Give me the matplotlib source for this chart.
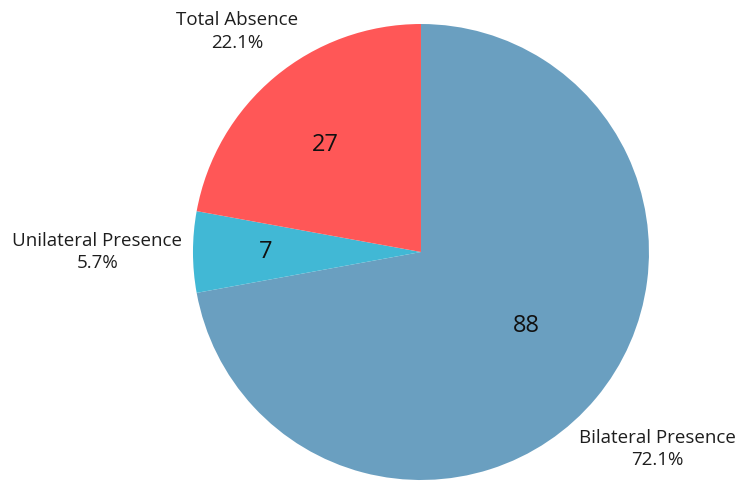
import numpy as np
import matplotlib.pyplot as plt

labels = ['Bilateral Presence', 'Unilateral Presence', 'Total Absence']
counts = [88, 7, 27]
colors = ['#6A9FC0', '#41B8D5', '#FF5757']

plt.rcParams['font.family'] = ['Open Sans', 'DejaVu Sans']

fig = plt.figure(figsize=(7.5, 4.95), dpi=100)
ax = fig.add_axes([0.2573, 0.0303, 0.608, 0.9212])

wedges, _ = ax.pie(counts, colors=colors, startangle=90, counterclock=False,
                   radius=1)
ax.set_xlim(-1, 1)
ax.set_ylim(-1, 1)
ax.set_aspect('equal')
ax.axis('off')

total = sum(counts)
label_r = [1.35, 1.42, 1.26]
count_r = [0.565, 0.68, 0.63]
count_shift = [5, 0, 2]
for w, lab, n, lr, cr, cs in zip(wedges, labels, counts, label_r, count_r, count_shift):
    mid = (w.theta1 + w.theta2) / 2
    theta = np.deg2rad(mid)
    ax.text(lr * np.cos(theta), lr * np.sin(theta),
            '{}\n{:.1f}%'.format(lab, 100 * n / total),
            ha='center', va='center', fontsize=13.5, color='#1e1e1e',
            linespacing=1.3, clip_on=False)
    t2 = np.deg2rad(mid + cs)
    ax.text(cr * np.cos(t2), cr * np.sin(t2), str(n),
            ha='center', va='center', fontsize=17, color='#111111')

fig.savefig('out.png', dpi=100)
